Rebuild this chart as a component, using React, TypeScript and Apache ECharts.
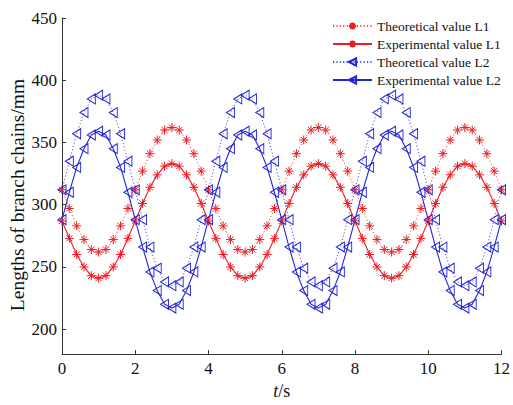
import React, { useEffect, useRef } from "react";
import * as echarts from "echarts";

const times = [
  0, 0.2, 0.4, 0.6, 0.8, 1, 1.2, 1.4, 1.6, 1.8,
  2, 2.2, 2.4, 2.6, 2.8, 3, 3.2, 3.4, 3.6, 3.8,
  4, 4.2, 4.4, 4.6, 4.8, 5, 5.2, 5.4, 5.6, 5.8,
  6, 6.2, 6.4, 6.6, 6.8, 7, 7.2, 7.4, 7.6, 7.8,
  8, 8.2, 8.4, 8.6, 8.8, 9, 9.2, 9.4, 9.6, 9.8,
  10, 10.2, 10.4, 10.6, 10.8, 11, 11.2, 11.4, 11.6, 11.8,
  12,
];

const theoL1 = [
  312, 297, 283, 272, 264, 262, 264, 272, 283, 297, 312, 327, 341, 352, 360, 362, 360, 352, 341, 327,
  312, 297, 283, 272, 264, 262, 264, 272, 283, 297, 312, 327, 341, 352, 360, 362, 360, 352, 341, 327,
  312, 297, 283, 272, 264, 262, 264, 272, 283, 297, 312, 327, 341, 352, 360, 362, 360, 352, 341, 327,
  312,
];

const expL1 = [
  287, 273, 260, 250, 243, 241, 243, 250, 260, 273, 287, 301, 314, 324, 331, 333, 331, 324, 314, 301,
  287, 273, 260, 250, 243, 241, 243, 250, 260, 273, 287, 301, 314, 324, 331, 333, 331, 324, 314, 301,
  287, 273, 260, 250, 243, 241, 243, 250, 260, 273, 287, 301, 314, 324, 331, 333, 331, 324, 314, 301,
  287,
];

const theoL2 = [
  312, 335, 357, 374, 385, 388, 385, 374, 357, 335, 312, 288, 266, 249, 238, 235, 238, 249, 266, 288,
  312, 335, 357, 374, 385, 388, 385, 374, 357, 335, 312, 288, 266, 249, 238, 235, 238, 249, 266, 288,
  312, 335, 357, 374, 385, 388, 385, 374, 357, 335, 312, 288, 266, 249, 238, 235, 238, 249, 266, 288,
  312,
];

const expL2 = [
  288, 310, 330, 345, 356, 359, 356, 345, 330, 310, 288, 266, 246, 231, 220, 217, 220, 231, 246, 266,
  288, 310, 330, 345, 356, 359, 356, 345, 330, 310, 288, 266, 246, 231, 220, 217, 220, 231, 246, 266,
  288, 310, 330, 345, 356, 359, 356, 345, 330, 310, 288, 266, 246, 231, 220, 217, 220, 231, 246, 266,
  288,
];

const seriesNames = [
  "Theoretical value L1",
  "Experimental value L1",
  "Theoretical value L2",
  "Experimental value L2",
];

const yTicks = [200, 250, 300, 350, 400, 450];
const yTitle = "Lengths of branch chains/mm";

const FONT = "Liberation Serif";
const RED = "#f01a22";
const BLUE = "#2424d8";
const STAR = "path://M5,0L5,10M0,5L10,5M1.6,1.6L8.4,8.4M1.6,8.4L8.4,1.6";
const TRI = "path://M0,5L10,0L10,10Z";

function pairs(vals: number[]) {
  return times.map((t, i) => [t, vals[i]]);
}

export default function App() {
  const ref = useRef<HTMLDivElement>(null);
  useEffect(() => {
    const chart = echarts.init(ref.current!, null, { renderer: "svg" });
    const dotted = [1.2, 2.2];
    chart.setOption({
      animation: false,
      backgroundColor: "#ffffff",
      textStyle: { fontFamily: FONT },
      grid: { left: 62, right: 11, top: 18, bottom: 42, containLabel: false },
      legend: {
        orient: "vertical",
        left: 327,
        top: 14,
        itemWidth: 39,
        itemHeight: 9,
        itemGap: 4,
        data: seriesNames,
        textStyle: { fontFamily: FONT, fontSize: 13.5, color: "#111" },
      },
      graphic: [
        {
          type: "text",
          x: 17,
          y: 195,
          rotation: Math.PI / 2,
          style: {
            text: yTitle,
            fontFamily: FONT,
            fontSize: 19.5,
            fill: "#111",
            align: "center",
            verticalAlign: "middle",
          },
        },
      ],
      xAxis: {
        type: "value",
        min: 0,
        max: 12,
        interval: 2,
        axisLine: { show: true, lineStyle: { color: "#333", width: 1 } },
        axisTick: { show: true, inside: true, length: 4, lineStyle: { color: "#333" } },
        axisLabel: { fontFamily: FONT, fontSize: 17, color: "#111", margin: 6 },
        splitLine: { show: false },
        name: "{i|t}/s",
        nameLocation: "middle",
        nameGap: 26,
        nameTextStyle: {
          fontFamily: FONT,
          fontSize: 18,
          color: "#111",
          rich: { i: { fontFamily: FONT, fontSize: 18, fontStyle: "italic", color: "#111" } },
        },
      },
      yAxis: {
        type: "value",
        min: 180,
        max: 450,
        axisLine: { show: true, lineStyle: { color: "#333", width: 1 } },
        axisTick: { show: true, inside: true, length: 4, customValues: yTicks, lineStyle: { color: "#333" } },
        axisLabel: { customValues: yTicks, fontFamily: FONT, fontSize: 17, color: "#111", margin: 5 },
        splitLine: { show: false },
      },
      series: [
        {
          name: seriesNames[0],
          type: "line",
          data: pairs(theoL1),
          symbol: STAR,
          symbolSize: 9,
          showAllSymbol: true,
          lineStyle: { color: RED, width: 1, type: dotted, opacity: 0.8 },
          itemStyle: { color: RED, borderColor: RED, borderWidth: 1 },
        },
        {
          name: seriesNames[1],
          type: "line",
          data: pairs(expL1),
          symbol: STAR,
          symbolSize: 9,
          showAllSymbol: true,
          lineStyle: { color: RED, width: 1.1, type: "solid" },
          itemStyle: { color: RED, borderColor: RED, borderWidth: 1 },
        },
        {
          name: seriesNames[2],
          type: "line",
          data: pairs(theoL2),
          symbol: TRI,
          symbolSize: [8, 10],
          showAllSymbol: true,
          lineStyle: { color: BLUE, width: 1, type: dotted, opacity: 0.8 },
          itemStyle: { color: "rgba(255,255,255,0)", borderColor: BLUE, borderWidth: 1 },
        },
        {
          name: seriesNames[3],
          type: "line",
          data: pairs(expL2),
          symbol: TRI,
          symbolSize: [8, 10],
          showAllSymbol: true,
          lineStyle: { color: BLUE, width: 1.1, type: "solid" },
          itemStyle: { color: "rgba(255,255,255,0)", borderColor: BLUE, borderWidth: 1 },
        },
      ],
    });
    return () => chart.dispose();
  }, []);
  return (
    <div
      ref={ref}
      style={{ position: "absolute", left: 0, top: 0, width: 513, height: 405 }}
    />
  );
}
